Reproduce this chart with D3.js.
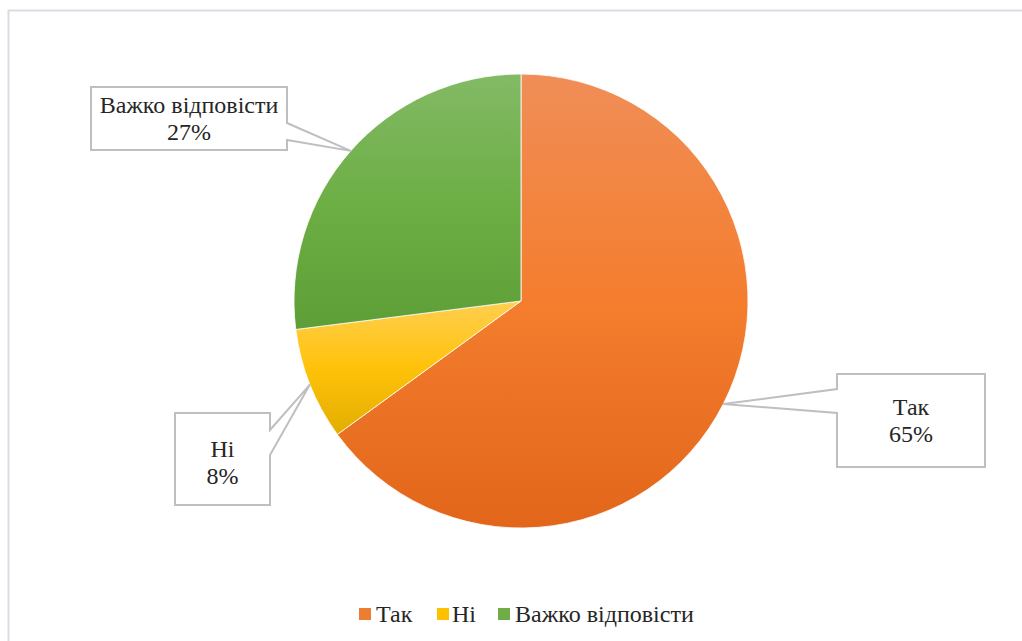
<!DOCTYPE html>
<html>
<head>
<meta charset="utf-8">
<script src="https://cdn.jsdelivr.net/npm/d3@7"></script>
<style>
  html, body { margin: 0; padding: 0; background: #fff; }
  svg { display: block; }
</style>
</head>
<body>
<svg id="chart" width="1022" height="641"></svg>
<script>
// Survey answers
const categories = ["Так", "Ні", "Важко відповісти"];
const values = [65, 8, 27];
const percentLabels = ["65%", "8%", "27%"];

// Gradient stops per slice: light top, base middle, dark bottom
const lightColors = ["#F08E57", "#FFCF50", "#83BA65"];
const baseColors = ["#F47D2E", "#FFC20A", "#6DAE45"];
const darkColors = ["#E2661A", "#E2AE00", "#5E9E36"];
const legendColors = ["#ED7D31", "#FFC000", "#70AD47"];

const FONT = "Liberation Serif, Times New Roman, serif";
const cx = 521, cy = 301, R = 227;

const svg = d3.select("#chart");

// Chart area frame
svg.append("rect")
  .attr("x", 8.5).attr("y", 10.5)
  .attr("width", 1100).attr("height", 1000)
  .attr("fill", "none")
  .attr("stroke", "#D9DDE3")
  .attr("stroke-width", 2);

const defs = svg.append("defs");
categories.forEach((c, i) => {
  const g = defs.append("linearGradient")
    .attr("id", "grad" + i)
    .attr("x1", 0).attr("y1", 0)
    .attr("x2", 0).attr("y2", 1);
  g.append("stop").attr("offset", "0%").attr("stop-color", lightColors[i]);
  g.append("stop").attr("offset", "50%").attr("stop-color", baseColors[i]);
  g.append("stop").attr("offset", "100%").attr("stop-color", darkColors[i]);
});

const pie = d3.pie().sort(null).value(d => d);
const arcs = pie(values);
const arc = d3.arc().innerRadius(0).outerRadius(R);

const gPie = svg.append("g").attr("transform", `translate(${cx},${cy})`);
gPie.selectAll("path")
  .data(arcs)
  .join("path")
  .attr("d", arc)
  .attr("fill", (d, i) => `url(#grad${i})`)
  .attr("stroke", "#fff")
  .attr("stroke-width", 0.8);

// Callout boxes: box rectangle, side the pointer leaves from, pointer base span,
// baseline of the first text line
const boxes = [
  { x: 837, y: 374, w: 148, h: 93, side: "left", b1: 389, b2: 413, line1: 415 },
  { x: 175, y: 413, w: 95, h: 92, side: "right", b1: 430, b2: 455, line1: 457 },
  { x: 91, y: 87, w: 196, h: 63, side: "right", b1: 123, b2: 140, line1: 113 }
];

const edgeArc = d3.arc().innerRadius(R).outerRadius(R);

arcs.forEach((d, i) => {
  const b = boxes[i];
  const [px, py] = edgeArc.centroid(d);
  const tip = [cx + px, cy + py];
  let pts;
  if (b.side === "left") {
    pts = [[b.x, b.y], [b.x + b.w, b.y], [b.x + b.w, b.y + b.h], [b.x, b.y + b.h],
           [b.x, b.b2], tip, [b.x, b.b1]];
  } else {
    pts = [[b.x, b.y], [b.x + b.w, b.y], [b.x + b.w, b.b1], tip, [b.x + b.w, b.b2],
           [b.x + b.w, b.y + b.h], [b.x, b.y + b.h]];
  }
  svg.append("path")
    .attr("d", d3.line()(pts) + "Z")
    .attr("fill", "#fff")
    .attr("stroke", "#BFBFBF")
    .attr("stroke-width", 2)
    .attr("stroke-linejoin", "miter");

  const tx = b.x + b.w / 2;
  const t = svg.append("text")
    .attr("x", tx)
    .attr("text-anchor", "middle")
    .attr("font-family", FONT)
    .attr("font-size", 24)
    .attr("fill", "#262626");
  t.append("tspan").attr("x", tx).attr("y", b.line1).text(categories[i]);
  t.append("tspan").attr("x", tx).attr("y", b.line1 + 27).text(percentLabels[i]);
});

// Legend
const legendItems = [
  { sx: 359, tx: 376 },
  { sx: 437, tx: 452 },
  { sx: 498, tx: 515 }
];
const legend = svg.append("g");
categories.forEach((c, i) => {
  legend.append("rect")
    .attr("x", legendItems[i].sx).attr("y", 608)
    .attr("width", 12).attr("height", 12)
    .attr("fill", legendColors[i]);
  legend.append("text")
    .attr("x", legendItems[i].tx).attr("y", 622)
    .attr("font-family", FONT)
    .attr("font-size", 24)
    .attr("fill", "#262626")
    .text(c);
});
</script>
</body>
</html>
